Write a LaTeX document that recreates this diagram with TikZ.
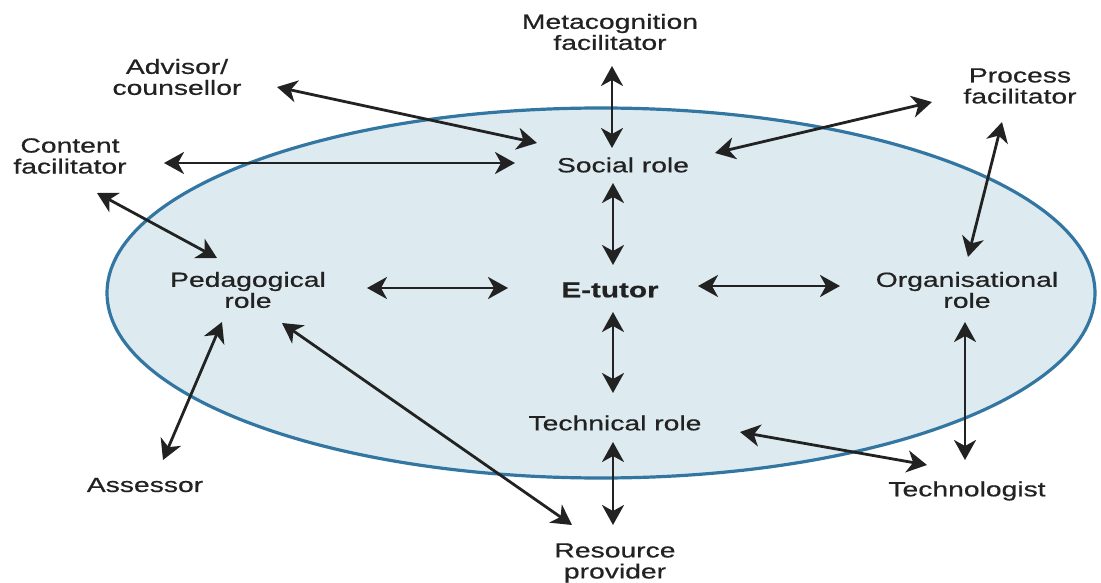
\documentclass[tikz,border=0pt]{standalone}
\usepackage{fontspec}
\setmainfont{Liberation Sans}[FakeStretch=1.38,FakeBold=0.6]
\usetikzlibrary{calc,arrows.meta}
\definecolor{rimblue}{RGB}{52,118,162}
\definecolor{fillblue}{RGB}{221,235,240}
\definecolor{inkgrey}{RGB}{34,34,34}
\tikzset{
	lbl/.style={align=center, inner sep=0pt, text=inkgrey, font=\fontsize{20.5}{21}\selectfont},
	arr/.style={line width=2.8pt, color=inkgrey, {Stealth[length=20pt,width=22pt,inset=6pt]}-{Stealth[length=20pt,width=22pt,inset=6pt]}}
}

\begin{document}
\begin{tikzpicture}[x=1pt,y=-1pt]
			%%%%% START %%%%%
			\useasboundingbox (0, 0) rectangle (1101, 583);
			
			\draw[line width=3.2pt, color=rimblue, fill=fillblue] (601, 293) ellipse (494 and 185);
			
			\node[lbl] (meta) at (610, 32) {Metacognition\\facilitator};
			\node[lbl] (adv) at (177, 77) {Advisor/\\counsellor};
			\node[lbl] (content) at (70, 156) {Content\\facilitator};
			\node[lbl] (proc) at (1020, 86) {Process\\facilitator};
			\node[lbl] (social) at (623, 165) {Social role};
			\node[lbl, font=\fontsize{21.5}{21}\selectfont\bfseries] (etutor) at (610, 290) {E-tutor};
			\node[lbl] (ped) at (248, 290) {Pedagogical\\role};
			\node[lbl] (org) at (967, 290) {Organisational\\role};
			\node[lbl] (tech) at (615, 423) {Technical role};
			\node[lbl] (assessor) at (145, 485) {Assessor};
			\node[lbl] (resource) at (615, 563) {Resource\\provider};
			\node[lbl] (techno) at (967, 491) {Technologist};
			
			\draw[arr] ($(meta)+(2,34)$) -- ($(social)+(-11,-17)$);
			\draw[arr] ($(adv)+(100,10)$) -- ($(social)+(-86,-22)$);
			\draw[arr] ($(content)+(94,7)$) -- ($(social)+(-108,-2)$);
			\draw[arr] ($(proc)+(-88,16)$) -- ($(social)+(92,-12)$);
			\draw[arr] ($(proc)+(-18,36)$) -- ($(org)+(1,-33)$);
			\draw[arr] ($(content)+(27,37)$) -- ($(ped)+(-31,-32)$);
			
			\draw[arr] ($(ped)+(119,-2)$) -- ($(etutor)+(-102,-2)$);
			\draw[arr] ($(etutor)+(88,-4)$) -- ($(org)+(-127,-4)$);
			\draw[arr] ($(social)+(-10,18)$) -- ($(etutor)+(3,-25)$);
			\draw[arr] ($(etutor)+(3,22)$) -- ($(tech)+(-2,-30)$);
			\draw[arr] ($(tech)+(-2,19)$) -- ($(resource)+(-2,-38)$);
			
			\draw[arr] ($(ped)+(-26,32)$) -- ($(assessor)+(18,-25)$);
			\draw[arr] ($(ped)+(34,33)$) -- ($(resource)+(-43,-38)$);
			\draw[arr] ($(tech)+(125,9)$) -- ($(techno)+(-40,-26)$);
			\draw[arr] ($(org)+(-2,32)$) -- ($(techno)+(-2,-31)$);
			%%%%% END %%%%%
		\end{tikzpicture}
\end{document}
